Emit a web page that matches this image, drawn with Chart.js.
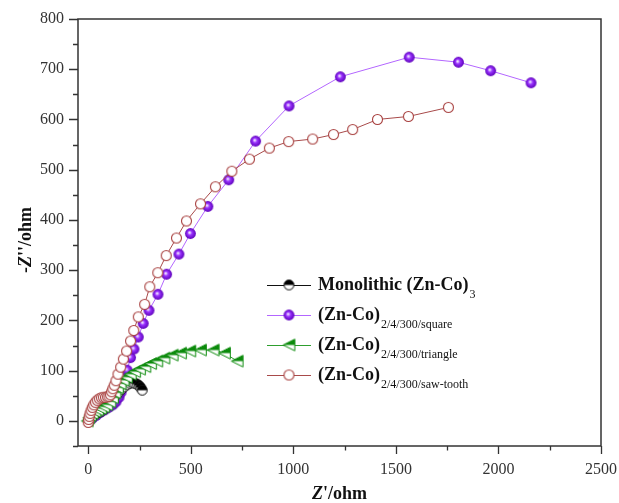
<!DOCTYPE html>
<html>
<head>
<meta charset="utf-8">
<script src="https://cdn.jsdelivr.net/npm/chart.js@4.4.1/dist/chart.umd.min.js"></script>
<style>
body{margin:0;background:#fff;}
#wrap{width:619px;height:503px;}
</style>
</head>
<body>
<div id="wrap"><canvas id="nyquist" width="619" height="503"></canvas></div>
<script>
/* ---------- data ---------- */
const monoX=[5,12,20,30,40,52,65,78,92,106,120,134,148,162,176,190,203,215,227,238,248,256,263];
const monoY=[2,6,10,13,15,17,20,24,30,37,44,51,57,63,68,72,75,76,75,73,70,66,61];

const squareX=[5,20,40,60,80,100,120,135,150,160,170,180,190,206,223,244,268,296,340,382,442,498,583,685,816,979,1229,1565,1805,1962,2159];
const squareY=[1,5,11,17,22,27,32,38,47,57,70,85,101,126,143,167,194,220,252,292,332,373,427,480,557,627,685,724,714,697,673];

const triX=[-5,2,10,20,32,45,60,75,90,105,118,130,142,155,170,186,205,226,250,276,304,334,369,409,450,495,547,609,664,726];
const triY=[0,6,11,15,19,22,25,28,32,38,46,56,66,74,81,87,93,98,103,108,114,119,125,131,135,139,141,141,135,119];

const sawX=[0,2,5,9,14,20,27,35,44,54,64,74,84,93,101,108,114,120,127,135,145,158,171,187,206,222,244,275,300,339,380,430,479,547,620,700,786,883,977,1094,1196,1289,1410,1561,1756];
const sawY=[-3,3,9,15,21,27,32,37,41,44,46,47,47,48,49,52,58,64,71,80,93,107,123,139,159,180,207,232,267,295,329,364,398,432,466,497,521,543,556,561,570,580,600,606,624];

const xTicks=[0,500,1000,1500,2000,2500];
const yTicks=[0,100,200,300,400,500,600,700,800];

const seriesNames=["Monolithic (Zn-Co)","(Zn-Co)","(Zn-Co)","(Zn-Co)"];
const seriesSubs=["3","2/4/300/square","2/4/300/triangle","2/4/300/saw-tooth"];

function pts(xs,ys){return xs.map((x,i)=>({x:x,y:ys[i]}));}

/* ---------- marker images ---------- */
function mk(size,draw){
const c=document.createElement("canvas");
c.width=size;c.height=size;
draw(c.getContext("2d"),size/2);
return c;
}

const sphere=mk(13,(g,c)=>{
let gr=g.createRadialGradient(c-1,c-1,0.5,c,c,5.5);
gr.addColorStop(0,"#f2e6ff");
gr.addColorStop(0.35,"#9a33ff");
gr.addColorStop(1,"#5c00b8");
g.fillStyle=gr;
g.beginPath();g.arc(c,c,5.4,0,Math.PI*2);g.fill();
});

const halfCircle=mk(13,(g,c)=>{
g.fillStyle="#fff";
g.beginPath();g.arc(c,c,4.9,0,Math.PI*2);g.fill();
g.fillStyle="#000";
g.beginPath();g.arc(c,c,4.9,Math.PI,0);g.closePath();g.fill();
g.strokeStyle="#000";g.lineWidth=1;
g.beginPath();g.arc(c,c,4.9,0,Math.PI*2);g.stroke();
});

const halfTri=mk(15,(g,c)=>{
const s=5.8;
g.fillStyle="#fff";
g.beginPath();g.moveTo(c-s,c);g.lineTo(c+s,c-s);g.lineTo(c+s,c+s);g.closePath();g.fill();
g.fillStyle="#0a8a0a";
g.beginPath();g.moveTo(c-s,c);g.lineTo(c+s,c-s);g.lineTo(c+s,c);g.closePath();g.fill();
g.strokeStyle="#0a8a0a";g.lineWidth=1;
g.beginPath();g.moveTo(c-s,c);g.lineTo(c+s,c-s);g.lineTo(c+s,c+s);g.closePath();g.stroke();
});

const ring=mk(13,(g,c)=>{
g.fillStyle="#fff";g.strokeStyle="#a8403f";g.lineWidth=1.1;
g.beginPath();g.arc(c,c,5,0,Math.PI*2);g.fill();g.stroke();
});

const markers=[halfCircle,sphere,halfTri,ring];
const lineColors=["#111","#b366ff","#2e9e2e","#a84a4a"];

/* ---------- frame, ticks, titles, legend ---------- */
const frame={
id:"frame",
afterDraw(chart){
const g=chart.ctx,a=chart.chartArea;
const sx=chart.scales.x,sy=chart.scales.y;
g.save();
g.strokeStyle="#333";g.lineWidth=1.5;
g.strokeRect(a.left,a.top,a.right-a.left,a.bottom-a.top);

g.lineWidth=1.3;
g.beginPath();
for(let v=0;v<=2500;v+=250){
let px=Math.round(sx.getPixelForValue(v))+0.5;
let len=(v%500===0)?8:4.5;
g.moveTo(px,a.bottom);g.lineTo(px,a.bottom+len);
}
for(let v=-50;v<=800;v+=50){
let py=Math.round(sy.getPixelForValue(v))+0.5;
let len=(v%100===0)?9:5;
g.moveTo(a.left,py);g.lineTo(a.left-len,py);
}
g.stroke();

/* axis titles */
g.fillStyle="#111";
g.textBaseline="middle";
let t1="Z",t2="'/ohm";
g.font="italic bold 18px 'Liberation Serif'";
let w1=g.measureText(t1).width;
g.font="bold 18px 'Liberation Serif'";
let w2=g.measureText(t2).width;
let cx=(a.left+a.right)/2-(w1+w2)/2;
g.font="italic bold 18px 'Liberation Serif'";
g.textAlign="left";
g.fillText(t1,cx,494);
g.font="bold 18px 'Liberation Serif'";
g.fillText(t2,cx+w1,494);

g.save();
g.translate(26,240);
g.rotate(-Math.PI/2);
let u1="-",u2="Z",u3="''/ohm";
g.font="bold 18px 'Liberation Serif'";
let a1=g.measureText(u1).width,a3=g.measureText(u3).width;
g.font="italic bold 18px 'Liberation Serif'";
let a2=g.measureText(u2).width;
let sxx=-(a1+a2+a3)/2;
g.font="bold 18px 'Liberation Serif'";
g.fillText(u1,sxx,0);
g.font="italic bold 18px 'Liberation Serif'";
g.fillText(u2,sxx+a1,0);
g.font="bold 18px 'Liberation Serif'";
g.fillText(u3,sxx+a1+a2,0);
g.restore();

/* legend */
let rowY=[285,315,345,375];
for(let i=0;i<4;i++){
let y=rowY[i];
g.strokeStyle=lineColors[i];g.lineWidth=1;
g.beginPath();g.moveTo(267,y+0.5);g.lineTo(311,y+0.5);g.stroke();
let m=markers[i];
g.drawImage(m,289-m.width/2,y-m.height/2);
g.fillStyle="#111";
g.font="bold 18px 'Liberation Serif'";
g.textAlign="left";g.textBaseline="middle";
g.fillText(seriesNames[i],318,y);
let w=g.measureText(seriesNames[i]).width;
g.font="12px 'Liberation Serif'";
g.fillText(seriesSubs[i],318+w+1,y+10);
}
g.restore();
}
};

function ds(xs,ys,i,order){
return{
data:pts(xs,ys),
showLine:true,
borderColor:lineColors[i],
borderWidth:1,
pointStyle:markers[i],
pointRadius:5,
pointHoverRadius:5,
order:order
};
}

new Chart(document.getElementById("nyquist"),{
type:"scatter",
data:{
datasets:[
ds(monoX,monoY,0,3),
ds(squareX,squareY,1,4),
ds(triX,triY,2,2),
ds(sawX,sawY,3,1)
]
},
options:{
responsive:false,
animation:false,
events:[],
layout:{padding:{top:19,right:18,left:0,bottom:0}},
plugins:{legend:{display:false},tooltip:{enabled:false}},
scales:{
x:{
type:"linear",min:-50,max:2500,
afterBuildTicks:s=>{s.ticks=xTicks.map(v=>({value:v}));},
afterFit:s=>{s.height=57;s.paddingLeft=0;s.paddingRight=0;},
grid:{display:false,drawTicks:false},
border:{display:false},
ticks:{padding:14,color:"#333",callback:v=>String(v),font:{family:"'Liberation Serif'",size:16}}
},
y:{
type:"linear",min:-50,max:800,
afterBuildTicks:s=>{s.ticks=yTicks.map(v=>({value:v}));},
afterFit:s=>{s.width=78;s.paddingTop=0;s.paddingBottom=0;},
grid:{display:false,drawTicks:false},
border:{display:false},
ticks:{padding:14,color:"#333",callback:v=>String(v),font:{family:"'Liberation Serif'",size:16}}
}
}
},
plugins:[frame]
});
</script>
</body>
</html>
